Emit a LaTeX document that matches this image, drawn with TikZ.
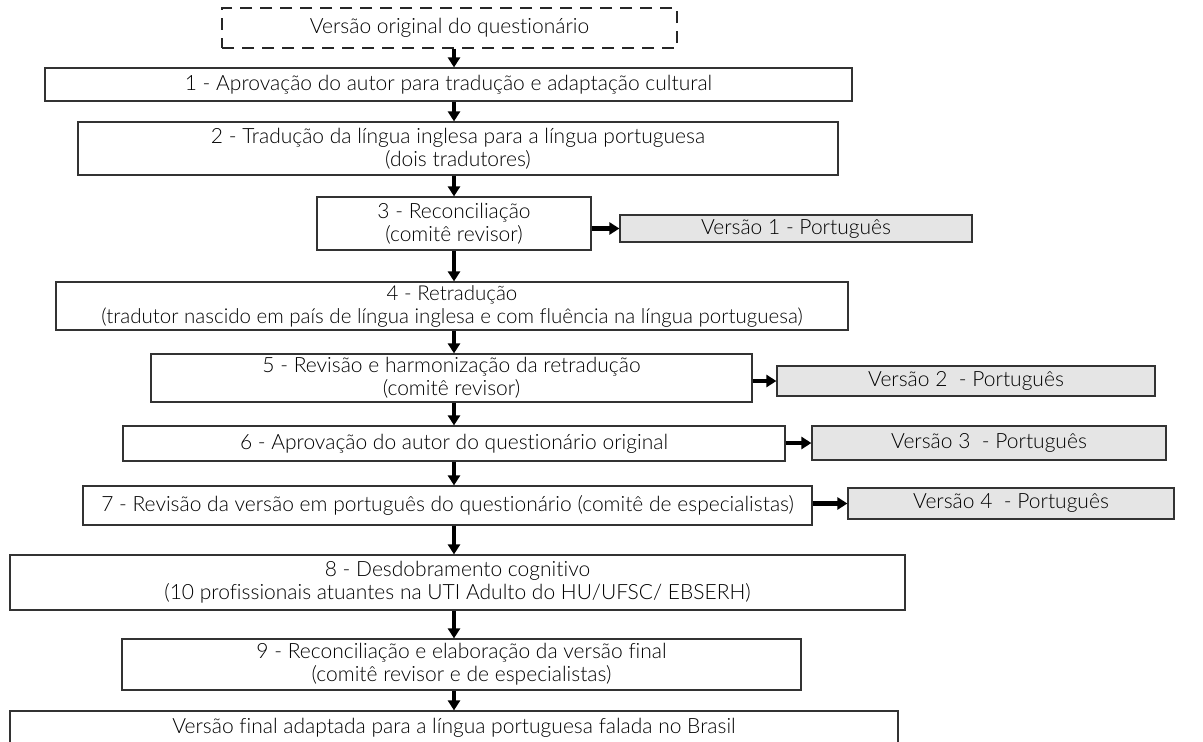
\documentclass[tikz,border=0pt]{standalone}
\usepackage{fontspec}
\setmainfont{Lato}[UprightFont={* Light}, Ligatures=NoCommon]
\usepackage{xcolor}
\usepackage{tikz}
\usetikzlibrary{arrows.meta}

\begin{document}
\begin{tikzpicture}[
    x=1pt, y=-1pt,
    stepbox/.style={draw=black!80, line width=1.2pt, fill=white, inner sep=0pt,
                    align=center, font=\fontsize{21}{23}\selectfont},
    origbox/.style={stepbox, draw=black!85, dash pattern=on 12pt off 8pt},
    verbox/.style={stepbox, fill=black!10},
    flow/.style={line width=4.5pt, -{Triangle[length=10pt, width=12pt]}},
]
\useasboundingbox (0,0) rectangle (1203,742);

% spine of the vertical arrows
\coordinate (spine) at (454, 0);

% =============================================
% MAIN COLUMN
% =============================================
\node[origbox, minimum width=455pt, minimum height=40pt] at (449.5, 28) (orig)
    {Versão original do questionário};

\node[stepbox, minimum width=807pt, minimum height=33pt] at (448.5, 84.5) (s1)
    {1 - Aprovação do autor para tradução e adaptação cultural};

\node[stepbox, minimum width=760pt, minimum height=53pt] at (458, 148.5) (s2)
    {2 - Tradução da língua inglesa para a língua portuguesa\\(dois tradutores)};

\node[stepbox, minimum width=274pt, minimum height=53pt] at (454, 223.5) (s3)
    {3 - Reconciliação\\(comitê revisor)};

\node[stepbox, minimum width=792pt, minimum height=48pt, font=\fontsize{20.5}{23}\selectfont]
    at (452, 306) (s4)
    {4 - Retradução\\(tradutor nascido em país de língua inglesa e com fluência na língua portuguesa)};

\node[stepbox, minimum width=601pt, minimum height=48pt] at (451.5, 378) (s5)
    {5 - Revisão e harmonização da retradução\\(comitê revisor)};

\node[stepbox, minimum width=662pt, minimum height=35pt] at (454, 443.5) (s6)
    {6 - Aprovação do autor do questionário original};

\node[stepbox, minimum width=729pt, minimum height=39pt] at (447.5, 505.5) (s7)
    {7 - Revisão da versão em português do questionário (comitê de especialistas)};

\node[stepbox, minimum width=895pt, minimum height=55pt] at (457.5, 582.5) (s8)
    {8 - Desdobramento cognitivo\\(10 profissionais atuantes na UTI Adulto do HU/UFSC/ EBSERH)};

\node[stepbox, minimum width=679pt, minimum height=51pt] at (461.5, 664.5) (s9)
    {9 - Reconciliação e elaboração da versão final\\(comitê revisor e de especialistas)};

\node[stepbox, minimum width=888pt, minimum height=34pt] at (454, 728) (final)
    {Versão final adaptada para a língua portuguesa falada no Brasil};

% vertical arrows
\foreach \a/\b in {orig/s1, s1/s2, s2/s3, s3/s4, s4/s5, s5/s6, s6/s7, s7/s8, s8/s9, s9/final}
    \draw[flow] (\a.south -| spine) -- (\b.north -| spine);

% =============================================
% SIDE VERSIONS
% =============================================
\node[verbox, minimum width=352pt, minimum height=27pt] at (796, 228.5) (v1)
    {Versão 1 - Português};
\node[verbox, minimum width=378pt, minimum height=30pt] at (966, 381) (v2)
    {Versão 2\ \ - Português};
\node[verbox, minimum width=354pt, minimum height=34pt] at (989, 443) (v3)
    {Versão 3\ \ - Português};
\node[verbox, minimum width=326pt, minimum height=31pt] at (1011, 503.5) (v4)
    {Versão 4\ \ - Português};

\draw[flow] (s3.east |- v1.west) -- (v1.west);
\draw[flow] (s5.east |- v2.west) -- (v2.west);
\draw[flow] (s6.east |- v3.west) -- (v3.west);
\draw[flow] (s7.east |- v4.west) -- (v4.west);

\end{tikzpicture}
\end{document}
